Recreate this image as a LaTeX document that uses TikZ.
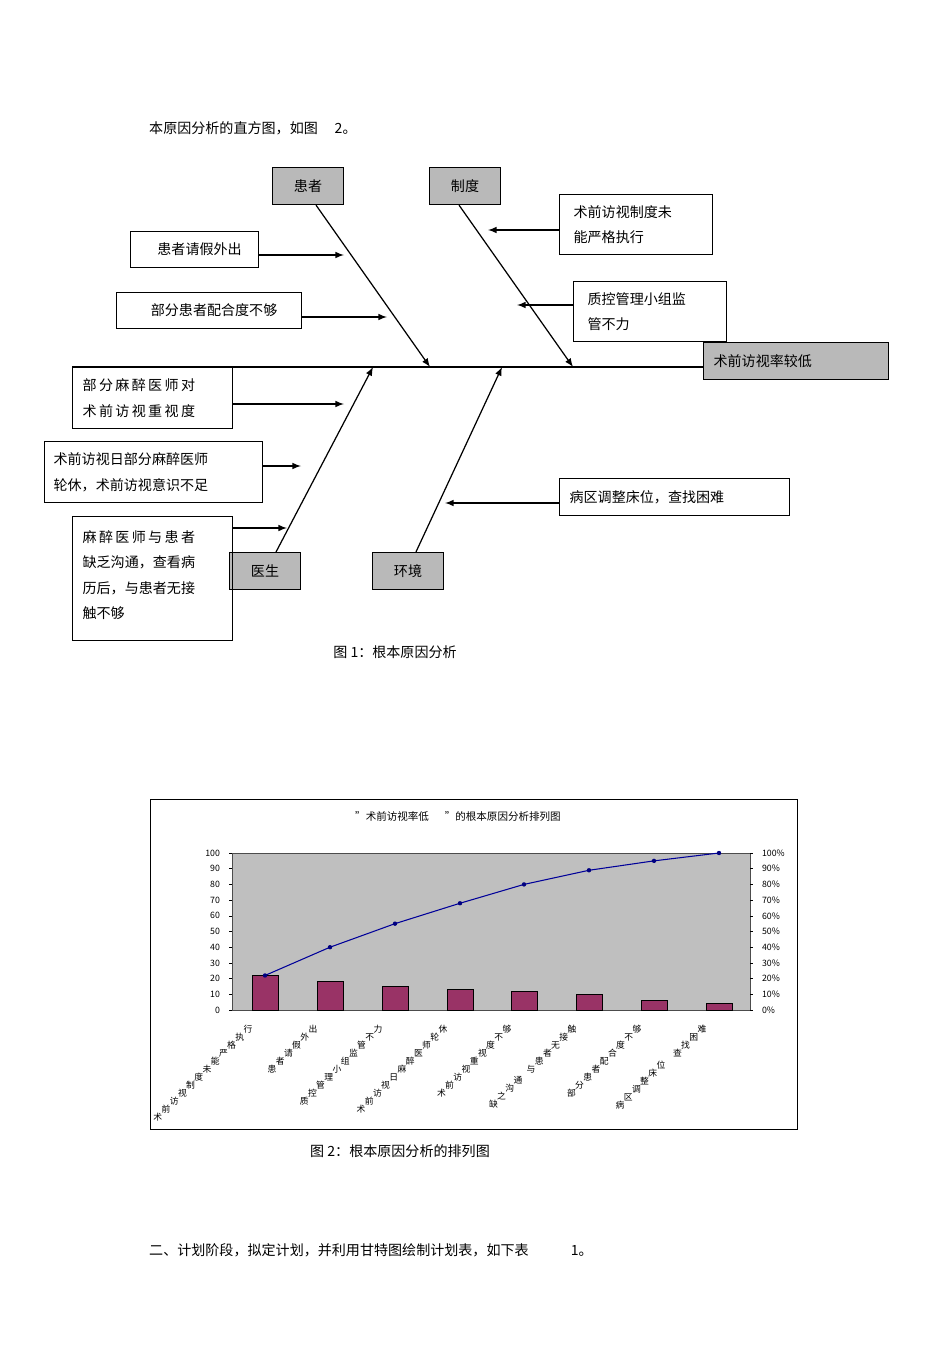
\documentclass[tikz,border=0pt]{standalone}
\usepackage{fontspec}
\setmainfont{Noto Sans CJK SC}
\usetikzlibrary{calc,positioning}
\begin{document}
\begin{tikzpicture}[x=0.02cm,y=-0.02cm,
    cat/.style={draw,fill=gray!55,line width=0.7pt,minimum width=1.42cm,minimum height=0.74cm,font=\fontsize{8}{10}\selectfont},
    cause/.style={draw,line width=0.7pt,anchor=north west,align=left,inner sep=0pt,font=\fontsize{8}{14.5}\selectfont},
    link/.style={line width=0.7pt,-latex},
    bar/.style={fill=red!45!blue!55!black!85,draw=black,line width=0.3pt}]
  \path[use as bounding box] (0,0) rectangle (950,1345);
  \definecolor{barred}{HTML}{993366}
  \node[anchor=west,font=\fontsize{8}{10}\selectfont] (top) at (143,128) {本原因分析的直方图，如图\hspace{1.2em}2。};

  % fishbone
  \node[cat,fill=gray!55,minimum width=3.7cm,anchor=north west,text width=3.3cm,align=left] (head) at (703,342) {术前访视率较低};
  \coordinate (tail) at (72,367);
  \draw[line width=0.8pt] (tail) -- (703,367);
  \node[cat] (huanzhe) at (308,186) {患者};
  \node[cat] (zhidu) at (465,186) {制度};
  \node[cat] (yisheng) at (265,571) {医生};
  \node[cat] (huanjing) at (408,571) {环境};
  \coordinate (j1) at (430,367);
  \coordinate (j2) at (573,367);
  \coordinate (j3) at (373,367);
  \coordinate (j4) at (502,367);
  \draw[link] ($(huanzhe.south)+(8,0)$) -- (j1);
  \draw[link] ($(zhidu.south)+(-6,0)$) -- (j2);
  \draw[link] (276,552) -- (j3);
  \draw[link] ($(huanjing.north)+(8,0)$) -- (j4);

  \node[cause,minimum width=2.56cm,minimum height=0.72cm] (c1) at (130,231) {\hspace{0.2cm}患者请假外出};
  \node[cause,minimum width=3.7cm,minimum height=0.72cm] (c2) at (116,292) {\hspace{0.2cm}部分患者配合度不够};
  \node[cause,minimum width=2.86cm,minimum height=1.2cm,text width=2.5cm,inner xsep=0.28cm] (c3) at (559,194) {术前访视制度未\\能严格执行};
  \node[cause,minimum width=2.86cm,minimum height=1.2cm,text width=2.5cm,inner xsep=0.28cm] (c4) at (573,281) {质控管理小组监\\管不力};
  \node[cause,minimum width=3.16cm,minimum height=1.22cm,text width=2.8cm,inner xsep=0.2cm] (c5) at (72,367) {部\,分\,麻\,醉\,医\,师\,对\\术\,前\,访\,视\,重\,视\,度};
  \node[cause,minimum width=4.28cm,minimum height=1.22cm,text width=4cm,inner xsep=0.18cm] (c6) at (44,441) {术前访视日部分麻醉医师\\轮休，术前访视意识不足};
  \node[cause,minimum width=3.16cm,minimum height=2.48cm,text width=2.8cm,inner xsep=0.2cm,text depth=1.7cm] (c7) at (72,516) {麻\,醉\,医\,师\,与\,患\,者\\缺乏沟通，查看病\\历后，与患者无接\\触不够};
  \node[cause,minimum width=4.58cm,minimum height=0.74cm,text width=4.2cm,inner xsep=0.2cm] (c8) at (559,478) {病区调整床位，查找困难};

  \coordinate (a1) at (344,255);
  \coordinate (a2) at (387,317);
  \coordinate (a3) at (488,230);
  \coordinate (a4) at (517,305);
  \coordinate (a5) at (344,404);
  \coordinate (a6) at (301,466);
  \coordinate (a7) at (287,528);
  \coordinate (a8) at (445,503);
  \draw[link] (c1.east |- a1) -- (a1);
  \draw[link] (c2.east |- a2) -- (a2);
  \draw[link] (c3.west |- a3) -- (a3);
  \draw[link] (c4.west |- a4) -- (a4);
  \draw[link] (c5.east |- a5) -- (a5);
  \draw[link] (c6.east |- a6) -- (a6);
  \draw[link] (c7.east |- a7) -- (a7);
  \draw[link] (c8.west |- a8) -- (a8);
  \node[font=\fontsize{8}{10}\selectfont] (cap1) at (395,652) {图 1：根本原因分析};

  % pareto chart
  \draw[line width=0.5pt] (150,799) rectangle (797,1129);
  \node[font=\fontsize{6}{8}\selectfont] (title) at (458,816) {"术前访视率低\hspace{1.5em}"的根本原因分析排列图};
  \draw[fill=gray!50,draw=gray!60!black,line width=0.4pt] (232,853) rectangle (750,1010);
  \foreach \v in {0,10,...,100} {
    \node[anchor=east,font=\fontsize{5}{6}\selectfont,inner sep=1pt] at (222,{1010-1.57*\v}) {\v};
    \node[anchor=west,font=\fontsize{5}{6}\selectfont,inner sep=1pt] at (760,{1010-1.57*\v}) {\v\%};
    \draw[line width=0.3pt] (229,{1010-1.57*\v}) -- (232,{1010-1.57*\v});
    \draw[line width=0.3pt] (750,{1010-1.57*\v}) -- (753,{1010-1.57*\v});
  }
  \foreach \x/\h [count=\i] in {265/22,330/18,395/15,460/13.5,524/12,589/10,654/6,719/4} {
    \draw[fill=barred,draw=black,line width=0.3pt] (\x-13,1010) rectangle (\x+13,{1010-1.57*\h});
  }
  \draw[blue!60!black,line width=0.6pt] (265,{1010-1.57*22}) -- (330,{1010-1.57*40}) -- (395,{1010-1.57*55}) -- (460,{1010-1.57*68}) -- (524,{1010-1.57*80}) -- (589,{1010-1.57*89}) -- (654,{1010-1.57*95}) -- (719,{1010-1.57*100});
  \foreach \x/\p in {265/22,330/40,395/55,460/68,524/80,589/89,654/95,719/100}
    \fill[blue!50!black] (\x,{1010-1.57*\p}) circle (2.2);

  % rotated category labels, one character at a time
  \newcommand{\diaglabel}[2]{%
    \foreach \c [count=\k] in {#2} {}%
  }
  \foreach \x/\lab in {265/{行,执,格,严,能,未,度,制,视,访,前,术},
                        330/{出,外,假,请,者,患},
                        395/{力,不,管,监,组,小,理,管,控,质},
                        460/{休,轮,师,医,醉,麻,日,视,访,前,术},
                        524/{够,不,度,视,重,视,访,前,术},
                        589/{触,接,无,者,患,与},
                        654/{够,不,度,合,配,者,患,分,部},
                        719/{难,困,找,查}} {
    \foreach \c [count=\k from 0] in \lab
      \node[font=\fontsize{5}{6}\selectfont,inner sep=0pt] at ({\x-17-8.2*\k},{1029+8*\k}) {\c};
  }
  % second rows of the long labels
  \foreach \c [count=\k from 0] in {通,沟,之,缺}
    \node[font=\fontsize{5}{6}\selectfont,inner sep=0pt] at ({518-8.2*\k},{1080+8*\k}) {\c};
  \foreach \c [count=\k from 0] in {位,床,整,调,区,病}
    \node[font=\fontsize{5}{6}\selectfont,inner sep=0pt] at ({661-8.2*\k},{1065+8*\k}) {\c};
  \node[font=\fontsize{8}{10}\selectfont] (cap2) at (400,1151) {图 2：根本原因分析的排列图};

  \node[anchor=west,font=\fontsize{8}{10}\selectfont] (bottom) at (143,1250) {二、计划阶段，拟定计划，并利用甘特图绘制计划表，如下表\hspace{3em}1。};
\end{tikzpicture}
\end{document}
